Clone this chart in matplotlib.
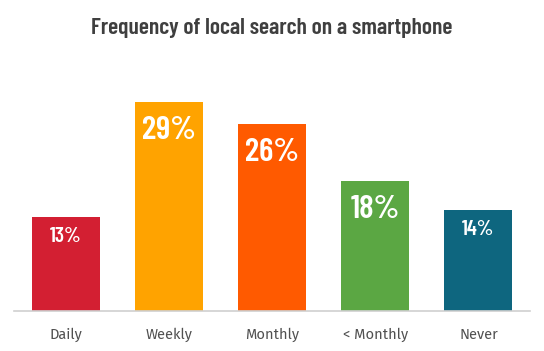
import matplotlib
matplotlib.use('Agg')
import matplotlib.pyplot as plt
from matplotlib import font_manager as fm

categories = ['Daily', 'Weekly', 'Monthly', '< Monthly', 'Never']
shares = [13, 29, 26, 18, 14]
bar_colors = ['#D31F32', '#FFA300', '#FF5A00', '#5BA743', '#0E667F']
title = 'Frequency of local search on a smartphone'

installed = {f.name for f in fm.fontManager.ttflist}


def pick(*names):
    for n in names:
        if n in installed:
            return n
    return 'DejaVu Sans'


narrow = pick('Barlow Condensed', 'Asap Condensed', 'Archivo Narrow')
body = pick('Fira Sans', 'Source Sans 3', 'Source Sans Pro', 'Open Sans')

fig = plt.figure(figsize=(5.44, 3.51), dpi=100)
ax = fig.add_axes([14 / 544, 40 / 351, 516 / 544, 239 / 351])

xs = range(len(categories))
bars = ax.bar(xs, shares, width=0.66, color=bar_colors)

# value labels inside the top of each bar
for x, v in zip(xs, shares):
    big = v >= 15
    ax.annotate(f'{v}%', (x, v), xytext=(0, -10 if big else -7),
                textcoords='offset points', ha='center', va='top',
                color='white', fontweight='semibold', family=narrow,
                fontsize=24 if big else 15.5)

ax.set_xlim(-0.5, 4.5)
ax.set_ylim(0, 33.2)
ax.set_xticks(list(xs))
ax.set_xticklabels(categories, family=body, fontsize=10.5, color='#505050')
ax.tick_params(axis='x', length=0, pad=12)
ax.set_yticks([])
for s in ['top', 'left', 'right']:
    ax.spines[s].set_visible(False)
ax.spines['bottom'].set_color('#d0d0d0')
ax.spines['bottom'].set_linewidth(1.2)

fig.text(0.5, 1 - 28 / 351, title, ha='center', va='center',
         family=narrow, fontweight='semibold', fontsize=17, color='#3f3f3f')

fig.savefig('out.png', dpi=100)
